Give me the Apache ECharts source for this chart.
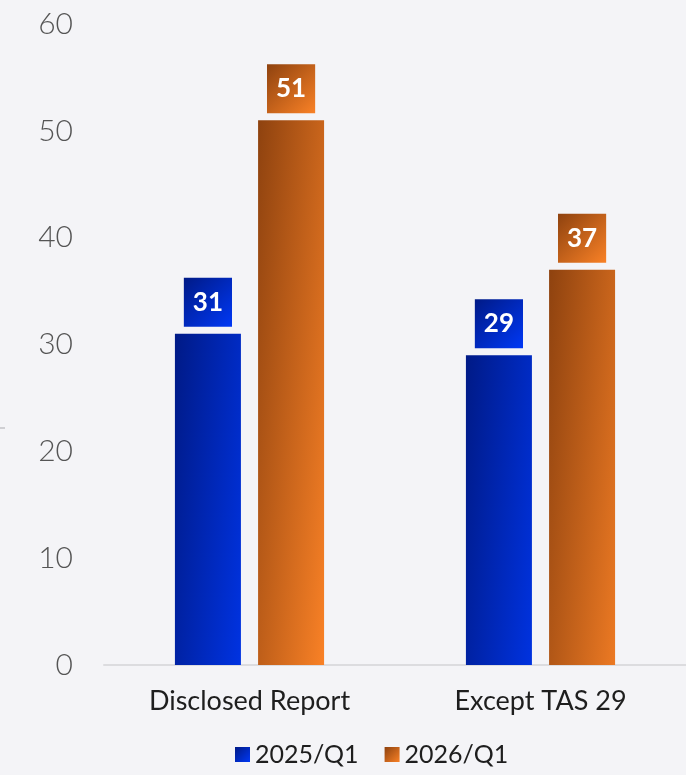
<!DOCTYPE html>
<html>
<head>
<meta charset="utf-8">
<style>
  html, body { margin: 0; padding: 0; background: #f4f4f7; }
  #chart { width: 686px; height: 775px; }
</style>
<script src="https://cdn.jsdelivr.net/npm/echarts@6/dist/echarts.min.js"></script>
</head>
<body>
<div id="chart"></div>
<script>
// Chart data
var categories = ['Disclosed Report', 'Except TAS 29'];
var seriesNames = ['2025/Q1', '2026/Q1'];
var values2025 = [31, 29];
var values2026 = [51, 37];
var yTicks = { min: 0, max: 60, interval: 10 };

var blue = ['#001a86', '#0038f5'];
var orange = ['#8e420f', '#f98126'];

// Diagonal gradient for label boxes and legend swatches
function grad(c0, c1) {
  return new echarts.graphic.LinearGradient(0, 0, 1, 1, [
    { offset: 0, color: c0 },
    { offset: 1, color: c1 }
  ]);
}

// Bar fill: mostly left-to-right, with a gentle brightening toward the base.
// The vertical share is scaled with the bar's height so all bars shade alike.
var PLOT_H = 641;
function barGrad(value, cols) {
  var h = Math.max(1, value / yTicks.max * PLOT_H);
  return new echarts.graphic.LinearGradient(0, 0, 1.8, 11.8 / h, [
    { offset: 0, color: cols[0] },
    { offset: 1, color: cols[1] }
  ]);
}

function barSeries(name, data, cols) {
  return {
    name: name,
    type: 'bar',
    data: data,
    barWidth: 66,
    barGap: '26%',
    itemStyle: {
      color: function (p) { return barGrad(p.value, cols); }
    },
    label: {
      show: true,
      position: 'top',
      distance: 7,
      color: '#ffffff',
      fontFamily: 'Lato, "Noto Sans", sans-serif',
      fontWeight: 'bold',
      fontSize: 26,
      lineHeight: 29,
      padding: [10, 9, 10, 9],
      backgroundColor: grad(cols[0], cols[1])
    }
  };
}

var chart = echarts.init(document.getElementById('chart'), null, { renderer: 'canvas' });
chart.setOption({
  backgroundColor: '#f4f4f7',
  animation: false,
  grid: { left: 104, right: 0, top: 24, bottom: 110, containLabel: false },
  legend: {
    data: [
      { name: seriesNames[0], itemStyle: { color: grad(blue[0], blue[1]) } },
      { name: seriesNames[1], itemStyle: { color: grad(orange[0], orange[1]) } }
    ],
    bottom: 3,
    left: 230,
    icon: 'rect',
    itemWidth: 15,
    itemHeight: 15,
    itemGap: 26,
    textStyle: {
      color: '#1e1e1e',
      fontSize: 25,
      fontFamily: 'Lato, "Noto Sans", sans-serif'
    }
  },
  graphic: [
    { type: 'rect', left: 0, top: 427, shape: { width: 5, height: 2 }, style: { fill: '#cfcfd3' } }
  ],
  xAxis: {
    type: 'category',
    data: categories,
    axisLine: { lineStyle: { color: '#dcdcdf', width: 2 } },
    axisTick: { show: false },
    axisLabel: {
      color: '#1e1e1e',
      fontSize: 27,
      margin: 23,
      fontFamily: 'Lato, "Noto Sans", sans-serif'
    }
  },
  yAxis: {
    type: 'value',
    min: yTicks.min,
    max: yTicks.max,
    interval: yTicks.interval,
    axisLine: { show: false },
    axisTick: { show: false },
    splitLine: { show: false },
    axisLabel: {
      color: '#555',
      fontSize: 30,
      fontWeight: 300,
      margin: 31,
      fontFamily: 'Lato, "Noto Sans", sans-serif'
    }
  },
  series: [
    barSeries(seriesNames[0], values2025, blue),
    barSeries(seriesNames[1], values2026, orange)
  ]
});
</script>
</body>
</html>
